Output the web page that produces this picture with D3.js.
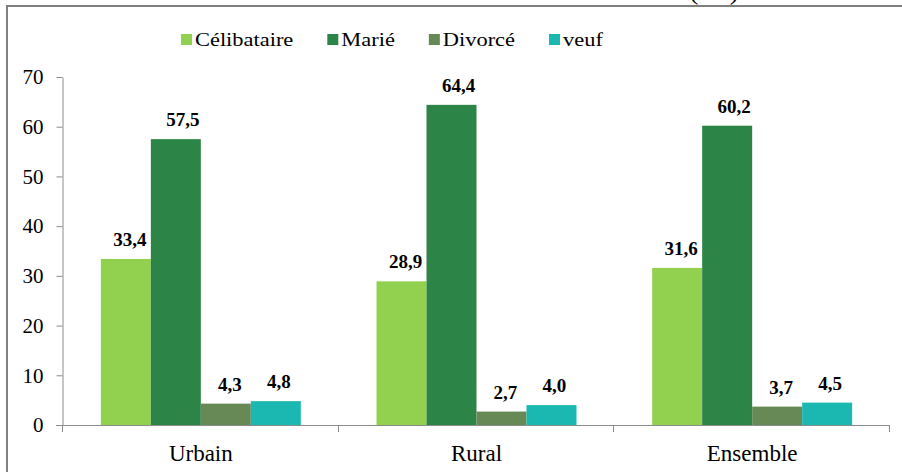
<!DOCTYPE html>
<html>
<head>
<meta charset="utf-8">
<script src="https://cdn.jsdelivr.net/npm/d3@7"></script>
<style>
  html, body { margin: 0; padding: 0; background: #fff; }
  svg { display: block; }
  svg text { font-family: "Liberation Serif", "Times New Roman", serif !important; }
</style>
</head>
<body>
<script>
// ---- data ----
const categories = ["Urbain", "Rural", "Ensemble"];
const seriesNames = ["Célibataire", "Marié", "Divorcé", "veuf"];
const celibataire = [33.4, 28.9, 31.6];
const marie = [57.5, 64.4, 60.2];
const divorce = [4.3, 2.7, 3.7];
const veuf = [4.8, 4.0, 4.5];
const yTicks = [0, 10, 20, 30, 40, 50, 60, 70];
const titleFragment = "(%)";

const seriesValues = [celibataire, marie, divorce, veuf];
const colors = ["#92D050", "#2C8446", "#678955", "#1BB8B1"];
const labelDx = [4, 7, 4, 3];
const FONT = "'Liberation Serif','Times New Roman',serif";

const W = 902, H = 472;
const svg = d3.select("body").append("svg")
  .attr("width", W).attr("height", H)
  .attr("font-family", FONT);

// cut-off title remnant at top (as in the reference)
svg.append("text")
  .attr("x", 716).attr("y", -1)
  .attr("text-anchor", "middle")
  .attr("font-family", FONT)
  .attr("font-size", 28).attr("letter-spacing", 4)
  .attr("fill", "#000")
  .text(titleFragment);

// outer frame
svg.append("rect")
  .attr("x", 7).attr("y", 6)
  .attr("width", W + 10).attr("height", H + 10)
  .attr("fill", "none").attr("stroke", "#7f7f7f").attr("stroke-width", 2);

// scales
const x = d3.scaleBand().domain(categories).range([63, 890]).padding(0);
const xi = d3.scaleBand().domain(seriesNames).range([0, x.step()]).paddingInner(0).paddingOuter(0.757);
const y = d3.scaleLinear().domain([0, 70]).range([425, 77]);

// bars
seriesNames.forEach((s, si) => {
  const g = svg.append("g");
  g.selectAll("rect").data(categories).join("rect")
    .attr("x", (c) => x(c) + xi(s))
    .attr("y", (c, i) => y(seriesValues[si][i]))
    .attr("width", xi.bandwidth())
    .attr("height", (c, i) => y(0) - y(seriesValues[si][i]))
    .attr("fill", colors[si]);
  g.selectAll("text").data(categories).join("text")
    .attr("x", (c) => x(c) + xi(s) + xi.bandwidth() / 2 + labelDx[si])
    .attr("y", (c, i) => y(seriesValues[si][i]) - 13)
    .attr("text-anchor", "middle")
    .attr("font-family", FONT)
    .attr("font-size", 19).attr("font-weight", "bold")
    .attr("fill", "#000")
    .text((c, i) => d3.format(".1f")(seriesValues[si][i]).replace(".", ","));
});

// y axis
const yAxis = svg.append("g")
  .attr("transform", "translate(62.5,0)")
  .call(d3.axisLeft(y).tickValues(yTicks).tickSize(6).tickSizeOuter(0).tickPadding(13).tickFormat(d3.format("d")));
yAxis.attr("font-family", FONT);
yAxis.select(".domain").attr("stroke", "#8c8c8c");
yAxis.selectAll(".tick line").attr("stroke", "#8c8c8c");
yAxis.selectAll(".tick text")
  .attr("font-family", FONT)
  .attr("font-size", 21).attr("fill", "#000");

// x axis line
svg.append("line")
  .attr("x1", 56).attr("x2", x.range()[1])
  .attr("y1", y(0) + 0.5).attr("y2", y(0) + 0.5)
  .attr("stroke", "#8c8c8c");
// category separator ticks
const bounds = categories.map((c) => x(c)).concat([x(categories[categories.length - 1]) + x.step()]);
svg.selectAll(".sep").data(bounds).join("line")
  .attr("x1", (d) => Math.round(d) - 0.5).attr("x2", (d) => Math.round(d) - 0.5)
  .attr("y1", y(0)).attr("y2", y(0) + 7)
  .attr("stroke", "#8c8c8c");
// category labels
svg.selectAll(".cat").data(categories).join("text")
  .attr("x", (c) => x(c) + x.bandwidth() / 2)
  .attr("y", 461)
  .attr("text-anchor", "middle")
  .attr("font-family", FONT)
  .attr("font-size", 23).attr("fill", "#000")
  .text((c) => c);

// legend
const legend = svg.append("g");
let lx = 181;
seriesNames.forEach((s, si) => {
  legend.append("rect")
    .attr("x", lx).attr("y", 34)
    .attr("width", 11).attr("height", 11)
    .attr("fill", colors[si]);
  const t = legend.append("text")
    .attr("x", 0).attr("y", 0)
    .attr("transform", `translate(${lx + 14},46) scale(1.15,1)`)
    .attr("font-family", FONT)
    .attr("font-size", 19.5).attr("fill", "#000")
    .text(s);
  const w = t.node().getComputedTextLength() * 1.15;
  lx += 14 + w + 34;
});
</script>
</body>
</html>
